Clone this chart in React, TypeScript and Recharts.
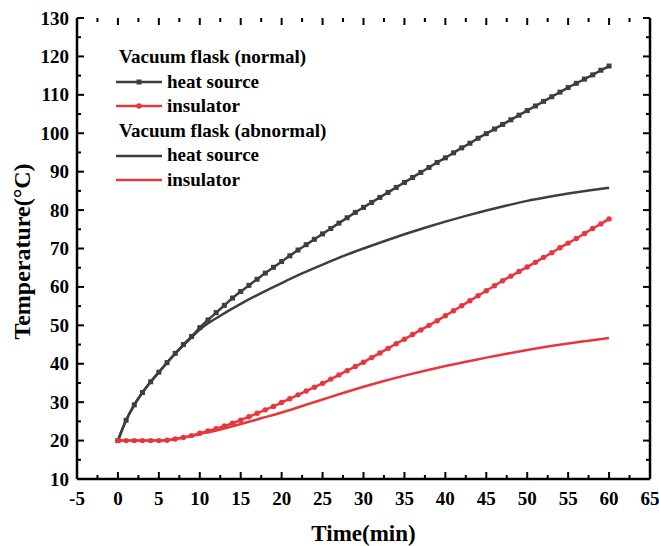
import React from "react";
import {
  LineChart,
  Line,
  XAxis,
  YAxis,
  Legend,
  ReferenceLine,
} from "recharts";

// Time axis (min)
const minutes = [
  0, 1, 2, 3, 4, 5, 6, 7, 8, 9, 10, 11, 12, 13, 14, 15, 16, 17, 18, 19, 20,
  21, 22, 23, 24, 25, 26, 27, 28, 29, 30, 31, 32, 33, 34, 35, 36, 37, 38, 39,
  40, 41, 42, 43, 44, 45, 46, 47, 48, 49, 50, 51, 52, 53, 54, 55, 56, 57, 58,
  59, 60,
];

// Vacuum flask (normal) – one reading every minute
const normalHeat = [
  20.0, 25.3, 29.3, 32.5, 35.3, 37.8, 40.3, 42.7, 45.0, 47.1, 49.4, 51.4,
  53.3, 55.2, 57.1, 58.8, 60.4, 62.0, 63.6, 65.1, 66.6, 68.1, 69.6, 71.0,
  72.4, 73.8, 75.2, 76.6, 78.0, 79.4, 80.7, 82.0, 83.3, 84.6, 85.9, 87.2,
  88.5, 89.8, 91.1, 92.4, 93.6, 94.9, 96.2, 97.4, 98.7, 99.9, 101.1, 102.3,
  103.5, 104.7, 105.9, 107.1, 108.3, 109.5, 110.7, 111.9, 113.0, 114.1,
  115.2, 116.4, 117.5,
];
const normalInsulator = [
  20.0, 20.0, 20.0, 20.0, 20.0, 20.0, 20.1, 20.4, 20.8, 21.3, 21.9, 22.5,
  23.1, 23.8, 24.5, 25.3, 26.2, 27.1, 28.0, 28.9, 29.9, 30.9, 31.9, 32.9,
  33.9, 34.9, 36.0, 37.1, 38.2, 39.3, 40.4, 41.6, 42.8, 44.0, 45.2, 46.4,
  47.6, 48.8, 50.0, 51.2, 52.5, 53.8, 55.1, 56.4, 57.7, 59.0, 60.3, 61.6,
  62.8, 64.0, 65.2, 66.4, 67.7, 68.9, 70.2, 71.4, 72.6, 73.9, 75.2, 76.4,
  77.7,
];

// Vacuum flask (abnormal)
const abnormalTime = [
  0, 1, 2, 3, 4, 5, 6, 7, 8, 9, 10, 12.5, 15, 17.5, 20, 22.5, 25, 27.5, 30,
  32.5, 35, 37.5, 40, 42.5, 45, 47.5, 50, 52.5, 55, 57.5, 60,
];
const abnormalHeat = [
  20.0, 25.3, 29.3, 32.5, 35.3, 37.8, 40.3, 42.6, 44.8, 46.9, 48.9, 52.5,
  55.6, 58.4, 61.0, 63.5, 65.8, 68.0, 70.0, 71.9, 73.7, 75.4, 77.0, 78.5,
  79.9, 81.2, 82.4, 83.4, 84.3, 85.1, 85.8,
];
const abnormalInsulator = [
  20.0, 20.0, 20.0, 20.0, 20.0, 20.0, 20.1, 20.4, 20.8, 21.2, 21.7, 22.9,
  24.3, 25.8, 27.3, 29.0, 30.7, 32.4, 34.0, 35.5, 36.9, 38.2, 39.4, 40.5,
  41.6, 42.6, 43.6, 44.5, 45.3, 46.0, 46.7,
];

const xMajor = [-5, 0, 5, 10, 15, 20, 25, 30, 35, 40, 45, 50, 55, 60, 65];
const xMinor = [
  -2.5, 2.5, 7.5, 12.5, 17.5, 22.5, 27.5, 32.5, 37.5, 42.5, 47.5, 52.5, 57.5,
  62.5,
];
const yMajor = [10, 20, 30, 40, 50, 60, 70, 80, 90, 100, 110, 120, 130];
const yMinor = [15, 25, 35, 45, 55, 65, 75, 85, 95, 105, 115, 125];

const normalHeatData = minutes.map((t, i) => ({ t, v: normalHeat[i] }));
const normalInsData = minutes.map((t, i) => ({ t, v: normalInsulator[i] }));
const abnormalHeatData = abnormalTime.map((t, i) => ({ t, v: abnormalHeat[i] }));
const abnormalInsData = abnormalTime.map((t, i) => ({ t, v: abnormalInsulator[i] }));

const GRAY = "#3e3e3e";
const RED = "#e8373c";
const FONT = "'Liberation Serif', 'Times New Roman', serif";
const AXIS = { stroke: "#000", strokeWidth: 2.5 };

const BottomLabel = (props: any) => {
  const { x, y, payload } = props;
  return (
    <text x={x} y={y + 26} textAnchor="middle" fontFamily={FONT} fontWeight="bold" fontSize={19} fill="#000">
      {payload.value}
    </text>
  );
};

const LeftLabel = (props: any) => {
  const { x, y, payload } = props;
  return (
    <text x={x - 8} y={y + 6.5} textAnchor="end" fontFamily={FONT} fontWeight="bold" fontSize={19} fill="#000">
      {payload.value}
    </text>
  );
};

// inward tick marks on both ends of a reference line (frame ticks)
const VTicks = (props: any) => {
  const { x1, y1, y2, len } = props;
  const top = Math.min(y1, y2);
  const bottom = Math.max(y1, y2);
  return (
    <g>
      <line x1={x1} x2={x1} y1={bottom} y2={bottom - len} stroke="#000" strokeWidth={2} />
      <line x1={x1} x2={x1} y1={top} y2={top + len} stroke="#000" strokeWidth={2} />
    </g>
  );
};

const HTicks = (props: any) => {
  const { x1, x2, y1, len } = props;
  const left = Math.min(x1, x2);
  const right = Math.max(x1, x2);
  return (
    <g>
      <line x1={left} x2={left + len} y1={y1} y2={y1} stroke="#000" strokeWidth={2} />
      <line x1={right} x2={right - len} y1={y1} y2={y1} stroke="#000" strokeWidth={2} />
    </g>
  );
};

const SquareDot = (props: any) => {
  const { cx, cy, index } = props;
  if (cx == null || cy == null) return <g key={index} />;
  return <rect key={index} x={cx - 2.5} y={cy - 2.5} width={5} height={5} fill={GRAY} />;
};

const RoundDot = (props: any) => {
  const { cx, cy, index } = props;
  if (cx == null || cy == null) return <g key={index} />;
  return <circle key={index} cx={cx} cy={cy} r={2.7} fill={RED} />;
};

const legendRows = [
  { title: "Vacuum flask (normal)" },
  { label: "heat source", color: GRAY, marker: "square" },
  { label: "insulator", color: RED, marker: "circle" },
  { title: "Vacuum flask (abnormal)" },
  { label: "heat source", color: GRAY, marker: "" },
  { label: "insulator", color: RED, marker: "" },
];

const LegendBox = () => (
  <div style={{ fontFamily: FONT, fontWeight: "bold", fontSize: 19, color: "#000", lineHeight: "24.6px", whiteSpace: "nowrap" }}>
    {legendRows.map((r, i) =>
      r.title ? (
        <div key={i} style={{ paddingLeft: 7 }}>{r.title}</div>
      ) : (
        <div key={i} style={{ display: "flex", alignItems: "center", paddingLeft: 3 }}>
          <svg width={48} height={10} style={{ marginRight: 4 }}>
            <line x1={1} x2={47} y1={5} y2={5} stroke={r.color} strokeWidth={2.5} />
            {r.marker === "square" && <rect x={21.5} y={2.5} width={5} height={5} fill={r.color} />}
            {r.marker === "circle" && <circle cx={24} cy={5} r={2.7} fill={r.color} />}
          </svg>
          <span>{r.label}</span>
        </div>
      )
    )}
  </div>
);

export default function App() {
  return (
    <div style={{ position: "absolute", left: 0, top: 0, width: 659, height: 546, background: "#fff" }}>
      <LineChart width={659} height={546} margin={{ top: 18, right: 0, bottom: 0, left: 0 }}>
        <XAxis
          xAxisId="bottom"
          dataKey="t"
          type="number"
          domain={[-5, 65]}
          ticks={xMajor}
          interval={0}
          allowDataOverflow
          height={67}
          tickSize={0}
          tickMargin={0}
          tickLine={false}
          axisLine={AXIS}
          tick={(p: any) => <BottomLabel {...p} />}
          label={(p: any) => {
            const vb = p.viewBox;
            return (
              <text x={vb.x + vb.width / 2} y={vb.y + 62} textAnchor="middle" fontFamily={FONT} fontWeight="bold" fontSize={23} fill="#000">
                Time(min)
              </text>
            );
          }}
        />
        <XAxis
          xAxisId="top"
          orientation="top"
          dataKey="t"
          type="number"
          domain={[-5, 65]}
          allowDataOverflow
          height={0}
          tickLine={false}
          tick={false}
          axisLine={AXIS}
        />
        <YAxis
          yAxisId="left"
          type="number"
          domain={[10, 130]}
          ticks={yMajor}
          interval={0}
          allowDataOverflow
          width={77}
          tickSize={0}
          tickMargin={0}
          tickLine={false}
          axisLine={AXIS}
          tick={(p: any) => <LeftLabel {...p} />}
          label={(p: any) => {
            const vb = p.viewBox;
            const cx = 30;
            const cy = vb.y + vb.height / 2 + 3;
            return (
              <text x={cx} y={cy} transform={`rotate(-90 ${cx} ${cy})`} textAnchor="middle" fontFamily={FONT} fontWeight="bold" fontSize={24} fill="#000">
                Temperature(°C)
              </text>
            );
          }}
        />
        <YAxis
          yAxisId="right"
          orientation="right"
          type="number"
          domain={[10, 130]}
          allowDataOverflow
          width={9}
          tickLine={false}
          tick={false}
          axisLine={AXIS}
        />

        {xMajor.map((v) => (
          <ReferenceLine key={`xM${v}`} xAxisId="bottom" yAxisId="left" x={v} stroke="none" shape={(p: any) => <VTicks {...p} len={7} />} />
        ))}
        {xMinor.map((v) => (
          <ReferenceLine key={`xm${v}`} xAxisId="bottom" yAxisId="left" x={v} stroke="none" shape={(p: any) => <VTicks {...p} len={4} />} />
        ))}
        {yMajor.map((v) => (
          <ReferenceLine key={`yM${v}`} xAxisId="bottom" yAxisId="left" y={v} stroke="none" shape={(p: any) => <HTicks {...p} len={7} />} />
        ))}
        {yMinor.map((v) => (
          <ReferenceLine key={`ym${v}`} xAxisId="bottom" yAxisId="left" y={v} stroke="none" shape={(p: any) => <HTicks {...p} len={4} />} />
        ))}

        <Legend
          layout="vertical"
          verticalAlign="middle"
          align="center"
          content={() => <LegendBox />}
          wrapperStyle={{ position: "absolute", left: 112, top: 45, width: 280 }}
        />
        <Line xAxisId="bottom" yAxisId="left" data={abnormalHeatData} dataKey="v" type="monotone" stroke={GRAY} strokeWidth={2.5} dot={false} isAnimationActive={false} />
        <Line xAxisId="bottom" yAxisId="left" data={abnormalInsData} dataKey="v" type="monotone" stroke={RED} strokeWidth={2.5} dot={false} isAnimationActive={false} />
        <Line
          xAxisId="bottom"
          yAxisId="left"
          data={normalHeatData}
          dataKey="v"
          type="monotone"
          stroke={GRAY}
          strokeWidth={2.5}
          dot={(p: any) => <SquareDot {...p} />}
          isAnimationActive={false}
        />
        <Line
          xAxisId="bottom"
          yAxisId="left"
          data={normalInsData}
          dataKey="v"
          type="monotone"
          stroke={RED}
          strokeWidth={2.5}
          dot={(p: any) => <RoundDot {...p} />}
          isAnimationActive={false}
        />
      </LineChart>
    </div>
  );
}
